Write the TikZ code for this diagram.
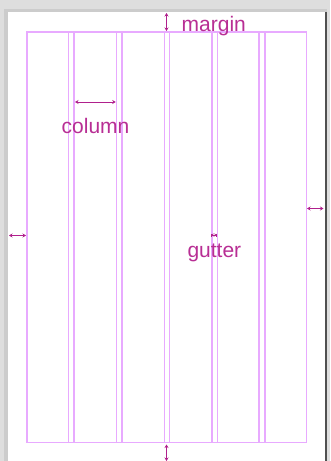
\documentclass[tikz,border=0pt]{standalone}
\usepackage{fontspec}
\setmainfont{Liberation Sans}
\usetikzlibrary{arrows.meta}
\definecolor{gridc}{RGB}{232,170,255}
\definecolor{arrc}{RGB}{176,32,140}
\definecolor{txtc}{RGB}{184,46,148}
\definecolor{frame}{RGB}{222,222,222}
\definecolor{frame2}{RGB}{204,204,204}
\definecolor{edge}{RGB}{80,80,80}
\begin{document}
\begin{tikzpicture}[x=1pt,y=-1pt,
  gridline/.style={draw=gridc,line width=1.1pt},
  dim/.style={draw=arrc,line width=1pt,{Stealth[length=3.5pt,width=4pt]}-{Stealth[length=3.5pt,width=4pt]}},
  smalldim/.style={draw=arrc,line width=0.7pt,{Bar[width=3pt]Stealth[length=1.8pt,width=3pt]}-{Stealth[length=1.8pt,width=3pt]Bar[width=3pt]}},
  lbl/.style={anchor=base west,inner sep=0pt,text=txtc,font=\fontsize{21}{24}\selectfont}]
\useasboundingbox (0,0) rectangle (330,461);
% window frame
\fill[frame] (0,0) rectangle (330,461);
\fill[frame2] (4,9) rectangle (8,461);
\fill[frame2] (4,9) rectangle (327,12);
\fill[white] (7.5,12) rectangle (325,461);
\fill[edge] (325,12) rectangle (327,461);
% grid
\draw[gridline] (27,32) rectangle (306.3,442.5);
\foreach \x in {68.7,74,116.7,122,164.3,169.3,212,217.3,259,265}
  \draw[gridline] (\x,32) -- (\x,442.5);
% dimension arrows
\coordinate (mt1) at (166.5,13);   \coordinate (mt2) at (166.5,31);
\coordinate (mb1) at (166.5,444.5);\coordinate (mb2) at (166.5,461);
\coordinate (ml1) at (9,235.5);    \coordinate (ml2) at (26,235.5);
\coordinate (mr1) at (307,208.5);  \coordinate (mr2) at (323.5,208.5);
\coordinate (c1) at (75,102);      \coordinate (c2) at (115.7,102);
\coordinate (g1) at (211,235);     \coordinate (g2) at (217,235);
\draw[dim] (mt1) -- (mt2);
\draw[dim] (mb1) -- (mb2);
\draw[dim] (ml1) -- (ml2);
\draw[dim] (mr1) -- (mr2);
\draw[dim] (c1) -- (c2);
\draw[smalldim] (g1) -- (g2);
% labels
\node[lbl] (margin) at (181.5,31) {margin};
\node[lbl] (column) at (61.5,133) {column};
\node[lbl] (gutter) at (187.3,257.3) {gutter};
\end{tikzpicture}
\end{document}
